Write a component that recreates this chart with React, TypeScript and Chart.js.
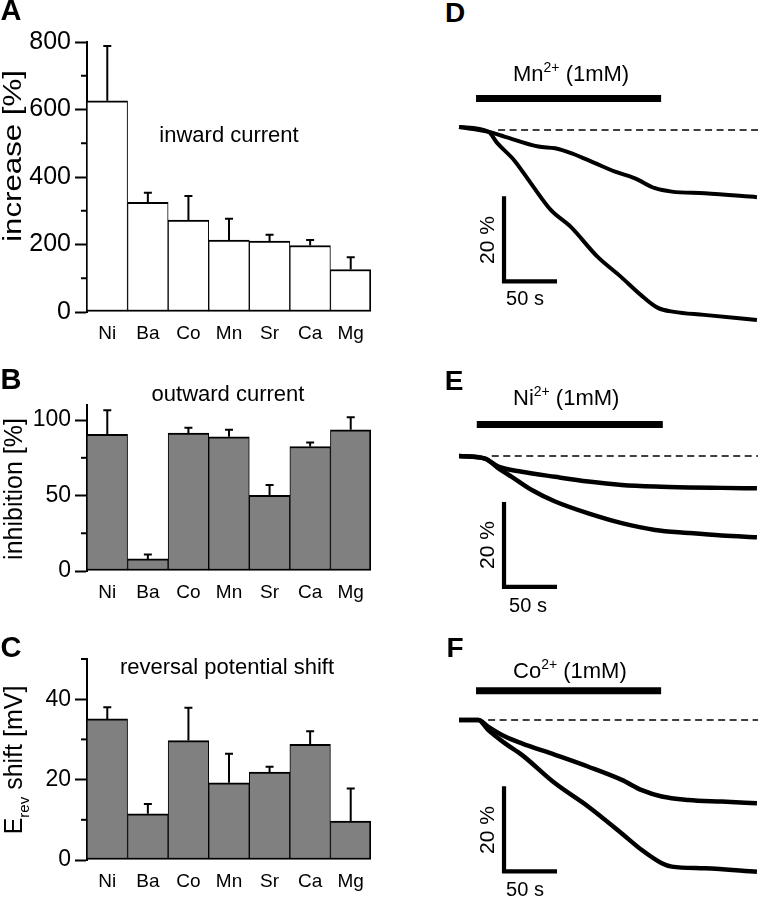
import React, { useEffect, useRef } from 'react';
import { Chart, registerables } from 'chart.js';

Chart.register(...registerables);

const FONT = '"Liberation Sans", Arial, Helvetica, sans-serif';

// ---------- Bar panels (A, B, C) ----------
const CATEGORIES = ['Ni', 'Ba', 'Co', 'Mn', 'Sr', 'Ca', 'Mg'];

const INWARD_INCREASE = [626, 325, 272, 213, 210, 197, 126];
const INWARD_ERR = [162, 28, 72, 63, 19, 16, 36];
const INWARD_TICKS = [0, 200, 400, 600, 800];
const INWARD_MINOR = [100, 300, 500, 700];

const OUTWARD_INHIBITION = [90.5, 8, 91.4, 88.9, 50.2, 82.5, 93.6];
const OUTWARD_ERR = [16, 3, 3.5, 4.7, 6.8, 2.7, 8.2];
const OUTWARD_TICKS = [0, 50, 100];
const OUTWARD_MINOR = [25, 75];

const EREV_SHIFT = [35.1, 11.5, 29.7, 19.2, 21.9, 28.8, 9.7];
const EREV_ERR = [2.9, 2.4, 8.2, 7.2, 1.3, 3.2, 8.1];
const EREV_TICKS = [0, 20, 40];
const EREV_MINOR = [10, 30, 50];

// ---------- Trace panels (D, E, F): time [s], current [% of control] ----------
const MN_SLOW_T = [0, 27.6, 43.4, 74.8, 90.6, 106.3, 128.3, 147.2, 166, 184.9, 200.7, 231.8, 281];
const MN_SLOW_P = [100.7, 99.6, 98.4, 96.1, 95.7, 94.5, 92.2, 90.2, 88.6, 86.3, 85.5, 85.1, 84.2];
const MN_FAST_T = [0, 27.6, 36.1, 51.9, 67.6, 86.5, 105.4, 130.5, 152.5, 171.4, 187.1, 202.8, 231.1, 281];
const MN_FAST_P = [100.7, 99.6, 96.9, 92.9, 87.5, 81.2, 77.2, 70.2, 65.5, 61.2, 58.2, 57.2, 56.5, 55.3];

const NI_SLOW_T = [0, 24.5, 37.1, 59.2, 90.6, 122, 153.5, 184.9, 216.3, 247.8, 281];
const NI_SLOW_P = [100, 99.4, 97.5, 96.3, 95.1, 94.0, 93.2, 92.8, 92.6, 92.5, 92.4];
const NI_FAST_T = [0, 24.5, 37.1, 49.7, 68.6, 90.6, 122, 153.5, 184.9, 216.3, 247.8, 281];
const NI_FAST_P = [100, 99.4, 97.1, 95.1, 92.0, 89.3, 86.5, 84.2, 82.6, 81.9, 81.3, 80.9];

const CO_SLOW_T = [0, 18.2, 27.6, 43.4, 59.2, 90.6, 122, 153.5, 172.4, 191.2, 216.3, 247.8, 281];
const CO_SLOW_P = [100, 100, 98.4, 96.1, 94.5, 91.8, 89, 85.9, 83.5, 82, 81.2, 80.8, 80.4];
const CO_FAST_T = [0, 18.2, 27.6, 43.4, 59.2, 90.6, 122, 153.5, 172.4, 191.2, 200.7, 232.1, 281];
const CO_FAST_P = [100, 100, 97.6, 94.5, 91.8, 85.1, 79.6, 73.3, 69.4, 66.3, 65.5, 65.1, 64.3];

const MN_APPLICATION = [16, 190.6];
const NI_APPLICATION = [16.7, 192.2];
const CO_APPLICATION = [16, 190.6];

const SCALE_TIME = 50; // s
const SCALE_PCT = 20; // %
const CONTROL_LEVEL = 100;

type BarProps = {
  top: number;
  height: number;
  chartTop: number;
  chartBottom: number;
  values: number[];
  errs: number[];
  max: number;
  ticks: number[];
  minor: number[];
  fill: string;
  tickSize: number;
};

function BarPanel({ top, height, chartTop, chartBottom, values, errs, max, ticks, minor, fill, tickSize }: BarProps) {
  const ref = useRef<HTMLCanvasElement>(null);
  useEffect(() => {
    const canvas = ref.current!;
    const extras = {
      id: 'extras',
      afterDatasetsDraw(chart: any) {
        const { ctx } = chart;
        const y = chart.scales.y;
        const meta = chart.getDatasetMeta(0);
        ctx.save();
        ctx.strokeStyle = '#000';
        ctx.lineWidth = 2;
        meta.data.forEach((bar: any, i: number) => {
          const cx = bar.x;
          const y0 = y.getPixelForValue(values[i]);
          const y1 = y.getPixelForValue(values[i] + errs[i]);
          ctx.beginPath();
          ctx.moveTo(cx, y0);
          ctx.lineTo(cx, y1);
          ctx.moveTo(cx - 4, y1);
          ctx.lineTo(cx + 4, y1);
          ctx.stroke();
        });
        const left = chart.chartArea.left;
        minor.forEach((v) => {
          const py = y.getPixelForValue(v);
          ctx.beginPath();
          ctx.moveTo(left - 6, py);
          ctx.lineTo(left, py);
          ctx.stroke();
        });
        ctx.restore();
      },
    };
    const chart = new Chart(canvas, {
      type: 'bar',
      data: {
        labels: CATEGORIES,
        datasets: [
          {
            data: values,
            backgroundColor: fill,
            borderColor: '#000',
            borderWidth: (c: any) => ({
              top: 2,
              bottom: 2,
              left: 1,
              right: c.dataIndex === values.length - 1 ? 2 : 1,
            }),
            borderSkipped: false,
            barPercentage: 1,
            categoryPercentage: 1,
          } as any,
        ],
      },
      options: {
        responsive: false,
        animation: false,
        layout: { padding: { top: chartTop, right: 9, left: 0, bottom: 0 } },
        plugins: { legend: { display: false }, tooltip: { enabled: false } },
        scales: {
          x: {
            grid: { display: false },
            border: { display: false },
            ticks: {
              color: '#000',
              font: { family: FONT, size: 19 },
              padding: 2,
              maxRotation: 0,
              autoSkip: false,
            },
            afterFit: (s: any) => {
              s.height = height - chartBottom;
            },
          },
          y: {
            min: 0,
            max,
            afterBuildTicks: (s: any) => {
              s.ticks = ticks.map((v) => ({ value: v }));
            },
            grid: {
              drawOnChartArea: false,
              drawTicks: true,
              tickLength: 12,
              tickWidth: 2,
              tickColor: '#000',
            },
            border: { display: true, color: '#000', width: 2 },
            ticks: { color: '#000', font: { family: FONT, size: tickSize }, padding: 4 },
            afterFit: (s: any) => {
              s.width = 87;
            },
          },
        },
      } as any,
      plugins: [extras],
    });
    return () => chart.destroy();
  }, []);
  return (
    <canvas
      ref={ref}
      width={380}
      height={height}
      style={{ position: 'absolute', left: 0, top, width: 380, height }}
    />
  );
}

type TraceProps = {
  top: number;
  height: number;
  yMin: number;
  yMax: number;
  slowT: number[];
  slowP: number[];
  fastT: number[];
  fastP: number[];
  application: number[];
  applicationLevel: number;
  baselineFrom: number;
  scaleOrigin: number[];
  traceWidth: number;
};

const X_MIN = -18;
const X_MAX = 282;

function TracePanel(p: TraceProps) {
  const ref = useRef<HTMLCanvasElement>(null);
  useEffect(() => {
    const canvas = ref.current!;
    const pts = (t: number[], v: number[]) => t.map((x, i) => ({ x, y: v[i] }));
    const [ox, oy] = p.scaleOrigin;
    const base = { borderColor: '#000', pointRadius: 0, fill: false };
    const chart = new Chart(canvas, {
      type: 'line',
      data: {
        datasets: [
          {
            ...base,
            data: [
              { x: p.baselineFrom, y: CONTROL_LEVEL },
              { x: X_MAX, y: CONTROL_LEVEL },
            ],
            borderWidth: 1.4,
            borderDash: [7, 4.5],
          },
          {
            ...base,
            data: pts(p.slowT, p.slowP),
            borderWidth: p.traceWidth,
            cubicInterpolationMode: 'monotone',
          },
          {
            ...base,
            data: pts(p.fastT, p.fastP),
            borderWidth: p.traceWidth,
            cubicInterpolationMode: 'monotone',
          },
          {
            ...base,
            data: [
              { x: p.application[0], y: p.applicationLevel },
              { x: p.application[1], y: p.applicationLevel },
            ],
            borderWidth: 7,
            borderCapStyle: 'butt',
          },
          {
            ...base,
            data: [
              { x: ox, y: oy + SCALE_PCT },
              { x: ox, y: oy },
              { x: ox + SCALE_TIME, y: oy },
            ],
            borderWidth: 4.2,
            borderCapStyle: 'butt',
            borderJoinStyle: 'miter',
          },
        ] as any,
      },
      options: {
        responsive: false,
        animation: false,
        layout: { padding: 0 },
        plugins: { legend: { display: false }, tooltip: { enabled: false } },
        scales: {
          x: { type: 'linear', min: X_MIN, max: X_MAX, display: false },
          y: { type: 'linear', min: p.yMin, max: p.yMax, display: false },
        },
      } as any,
    });
    return () => chart.destroy();
  }, []);
  return (
    <canvas
      ref={ref}
      width={318}
      height={p.height}
      style={{ position: 'absolute', left: 440, top: p.top, width: 318, height: p.height }}
    />
  );
}

type TxtProps = {
  x: number;
  y: number;
  size: number;
  bold?: boolean;
  rotate?: boolean;
  left?: boolean;
  stretch?: number;
  children: React.ReactNode;
};

function Txt({ x, y, size, bold, rotate, left, stretch, children }: TxtProps) {
  return (
    <div
      style={{
        position: 'absolute',
        left: x,
        top: y,
        transform:
          `translate(${left ? '0' : '-50%'}, -50%)` +
          (rotate ? ' rotate(-90deg)' : '') +
          (stretch ? ` scaleX(${stretch})` : ''),
        fontFamily: FONT,
        fontSize: size,
        fontWeight: bold ? 700 : 400,
        whiteSpace: 'nowrap',
        lineHeight: 1.15,
        color: '#000',
      }}
    >
      {children}
    </div>
  );
}

const sup: React.CSSProperties = { fontSize: 14, position: 'relative', top: -9 };
const sub: React.CSSProperties = { fontSize: 15, position: 'relative', top: 7 };

export default function App() {
  return (
    <div
      style={{
        position: 'absolute',
        left: 0,
        top: 0,
        width: 758,
        height: 899,
        overflow: 'hidden',
        background: '#fff',
      }}
    >
      <BarPanel
        top={0}
        height={345}
        chartTop={42}
        chartBottom={312}
        values={INWARD_INCREASE}
        errs={INWARD_ERR}
        max={800}
        ticks={INWARD_TICKS}
        minor={INWARD_MINOR}
        fill="#ffffff"
        tickSize={25}
      />
      <BarPanel
        top={345}
        height={260}
        chartTop={60}
        chartBottom={226}
        values={OUTWARD_INHIBITION}
        errs={OUTWARD_ERR}
        max={110}
        ticks={OUTWARD_TICKS}
        minor={OUTWARD_MINOR}
        fill="#808080"
        tickSize={23}
      />
      <BarPanel
        top={605}
        height={294}
        chartTop={54}
        chartBottom={255}
        values={EREV_SHIFT}
        errs={EREV_ERR}
        max={50}
        ticks={EREV_TICKS}
        minor={EREV_MINOR}
        fill="#808080"
        tickSize={23}
      />

      <TracePanel
        top={62}
        height={272}
        yMin={52}
        yMax={116}
        slowT={MN_SLOW_T}
        slowP={MN_SLOW_P}
        fastT={MN_FAST_T}
        fastP={MN_FAST_P}
        application={MN_APPLICATION}
        applicationLevel={107.4}
        baselineFrom={36.8}
        scaleOrigin={[42.4, 64.4]}
        traceWidth={4}
      />
      <TracePanel
        top={388}
        height={221}
        yMin={64}
        yMax={116}
        slowT={NI_SLOW_T}
        slowP={NI_SLOW_P}
        fastT={NI_FAST_T}
        fastP={NI_FAST_P}
        application={NI_APPLICATION}
        applicationLevel={107.4}
        baselineFrom={30.8}
        scaleOrigin={[42.4, 69.2]}
        traceWidth={4.5}
      />
      <TracePanel
        top={652}
        height={238}
        yMin={60}
        yMax={116}
        slowT={CO_SLOW_T}
        slowP={CO_SLOW_P}
        fastT={CO_FAST_T}
        fastP={CO_FAST_P}
        application={CO_APPLICATION}
        applicationLevel={106.9}
        baselineFrom={27.4}
        scaleOrigin={[42.4, 64.4]}
        traceWidth={4.5}
      />

      {/* panel letters */}
      <Txt x={11} y={11} size={29} bold>A</Txt>
      <Txt x={11} y={380} size={29} bold>B</Txt>
      <Txt x={11} y={648} size={29} bold>C</Txt>
      <Txt x={455} y={13} size={28} bold>D</Txt>
      <Txt x={454} y={381} size={28} bold>E</Txt>
      <Txt x={455} y={648} size={28} bold>F</Txt>

      {/* axis titles */}
      <Txt x={13} y={156} size={26} rotate stretch={1.2}>increase [%]</Txt>
      <Txt x={13} y={489} size={25} rotate>inhibition [%]</Txt>
      <Txt x={13} y={760} size={25} rotate>
        E<span style={sub}>rev</span> shift [mV]
      </Txt>

      {/* in-plot titles */}
      <Txt x={229} y={135} size={22}>inward current</Txt>
      <Txt x={228} y={394} size={22}>outward current</Txt>
      <Txt x={227} y={667} size={22}>reversal potential shift</Txt>

      {/* trace labels */}
      <Txt x={513} y={74} size={22} left>
        Mn<span style={sup}>2+</span> (1mM)
      </Txt>
      <Txt x={513} y={398} size={22} left>
        Ni<span style={sup}>2+</span> (1mM)
      </Txt>
      <Txt x={513} y={671} size={22} left>
        Co<span style={sup}>2+</span> (1mM)
      </Txt>

      <Txt x={487} y={240} size={21} rotate>20 %</Txt>
      <Txt x={525} y={298} size={20}>50 s</Txt>
      <Txt x={487} y={545} size={21} rotate>20 %</Txt>
      <Txt x={528} y={605} size={20}>50 s</Txt>
      <Txt x={487} y={830} size={21} rotate>20 %</Txt>
      <Txt x={525} y={889} size={20}>50 s</Txt>
    </div>
  );
}
